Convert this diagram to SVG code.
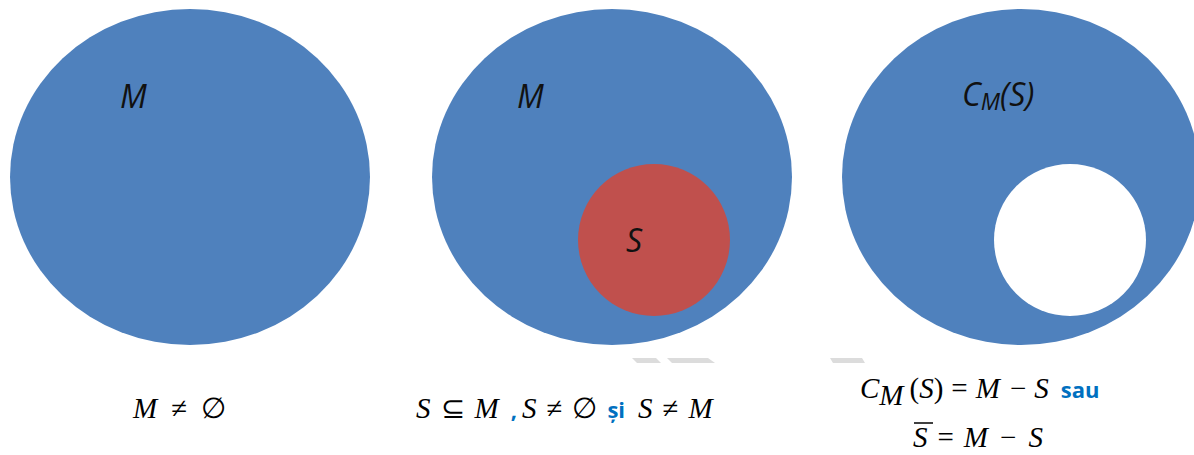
<svg xmlns="http://www.w3.org/2000/svg" width="1194" height="455" viewBox="0 0 1194 455">
<style>
.blue{fill:#4F81BD}
.lbl{font-family:"Open Sans","Liberation Sans",sans-serif;font-style:italic;font-size:32px;fill:#111}
.math{font-family:"Liberation Serif",serif;font-style:italic;font-size:29px;fill:#000}
.op{font-family:"Liberation Serif",serif;font-style:normal;font-size:29px;fill:#000}
.kw{font-family:"Open Sans","Liberation Sans",sans-serif;font-weight:bold;font-size:22px;fill:#0070C0}
.wm{fill:#dcdcdc}
</style>
<rect width="1194" height="455" fill="#fff"/>
<g id="set-M">
<ellipse class="blue" cx="190" cy="177" rx="180" ry="168"/>
<text class="lbl" x="120" y="108">M</text>
</g>
<g id="set-M-with-S">
<ellipse class="blue" cx="612" cy="177" rx="180" ry="168"/>
<text class="lbl" x="517" y="108">M</text>
<circle id="set-S" cx="654" cy="240" r="76" fill="#C0504D"/>
<text class="lbl" x="626" y="252">S</text>
</g>
<g id="complement">
<ellipse class="blue" cx="1021" cy="177" rx="179" ry="168"/>
<circle cx="1070" cy="240" r="76" fill="#fff"/>
<text class="lbl" x="962" y="106">C<tspan font-size="23" dy="4">M</tspan><tspan dy="-4">(S)</tspan></text>
</g>
<g id="watermark">
<polygon class="wm" points="632,358 656,358 661,363 637,363"/>
<polygon class="wm" points="667,358 708,358 715,363 672,363"/>
<polygon class="wm" points="830,358 862,358 865,363 833,363"/>
</g>
<g id="formulas">
<text x="133" y="418"><tspan class="math">M</tspan><tspan class="op" dx="14">≠</tspan><tspan class="op" dx="14">∅</tspan></text>
<text x="416" y="418"><tspan class="math">S</tspan><tspan class="op" dx="10">⊆</tspan><tspan class="math" dx="10">M</tspan><tspan class="kw" dx="12">,</tspan><tspan class="math" dx="5">S</tspan><tspan class="op" dx="10">≠</tspan><tspan class="op" dx="10">∅</tspan><tspan class="kw" dx="10">și</tspan><tspan class="math" dx="13">S</tspan><tspan class="op" dx="10">≠</tspan><tspan class="math" dx="10">M</tspan></text>
<text x="860" y="398"><tspan class="math">C</tspan><tspan class="math" font-size="17" dy="7">M</tspan><tspan class="op" dy="-7" dx="6">(</tspan><tspan class="math">S</tspan><tspan class="op">)</tspan><tspan class="op" dx="8">=</tspan><tspan class="math" dx="8">M</tspan><tspan class="op" dx="10">−</tspan><tspan class="math" dx="8">S</tspan><tspan class="kw" dx="12">sau</tspan></text>
<text x="913" y="447"><tspan class="math">S</tspan><tspan class="op" dx="10">=</tspan><tspan class="math" dx="10">M</tspan><tspan class="op" dx="12">−</tspan><tspan class="math" dx="12">S</tspan></text>
<line x1="914" y1="423" x2="933" y2="423" stroke="#000" stroke-width="1.5"/>
</g>
</svg>
